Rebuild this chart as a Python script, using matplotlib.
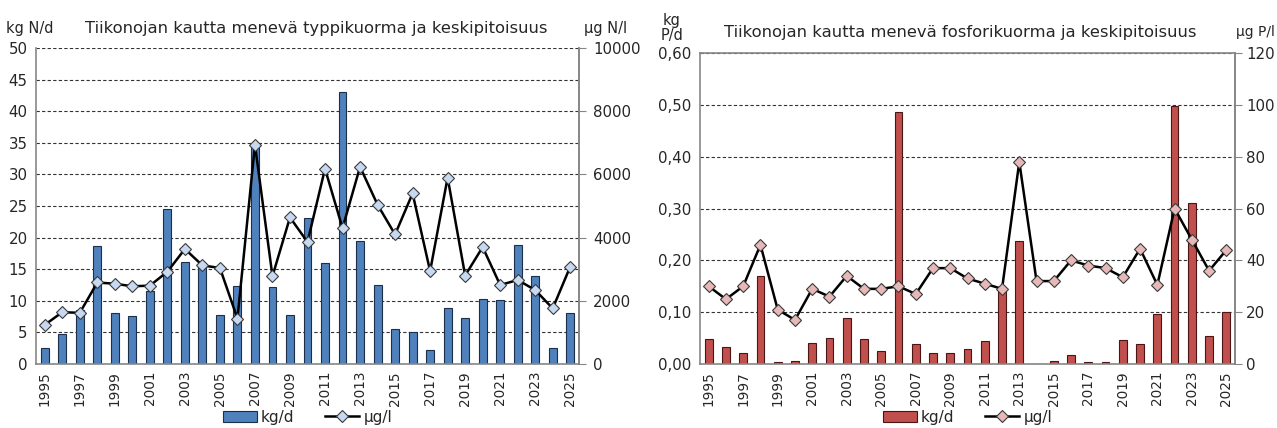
import numpy as np
import matplotlib
matplotlib.use("Agg")
import matplotlib.pyplot as plt
from matplotlib.ticker import FuncFormatter

plt.rcParams['font.family'] = ['DejaVu Sans']

years = list(range(1995, 2026))

# typpi (N)
n_load = [2.5, 4.7, 8.6, 18.7, 8.0, 7.6, 11.5, 24.6, 16.2, 15.3, 7.8, 12.4, 34.8, 12.2, 7.7, 23.1,
          16.0, 43.0, 19.4, 12.5, 5.5, 5.0, 2.25, 8.9, 7.25, 10.3, 10.1, 18.9, 14.0, 2.6, 8.1]
n_conc = [1240, 1640, 1620, 2580, 2540, 2460, 2480, 2920, 3640, 3120, 3040, 1440, 6940, 2780, 4640, 3860,
          6180, 4300, 6240, 5040, 4100, 5400, 2940, 5900, 2800, 3700, 2500, 2660, 2340, 1760, 3080]

# fosfori (P)
p_load = [0.048, 0.032, 0.021, 0.170, 0.003, 0.006, 0.040, 0.051, 0.088, 0.048, 0.025, 0.487, 0.039,
          0.021, 0.021, 0.029, 0.045, 0.145, 0.237, 0.0, 0.006, 0.018, 0.004, 0.003, 0.046, 0.039,
          0.096, 0.497, 0.31, 0.055, 0.101]
p_conc = [30, 25, 30, 46, 21, 17, 29, 26, 34, 29, 29, 30, 27, 37, 37, 33,
          31, 29, 78, 32, 32, 40, 38, 37, 33.5, 44.5, 30.5, 60, 48, 36, 44]

TXT = '#262626'
SPINE = '#868686'


def draw(fig, rect, load, conc, bar_col, bar_edge, mk_col, ymax, ystep, y2max, y2step, lfmt,
         full_frame, pad2=5):
    ax = fig.add_axes(rect)
    x = np.arange(len(years))
    ax.bar(x, load, width=0.45, color=bar_col, edgecolor=bar_edge, linewidth=0.8, zorder=2, label='kg/d')
    ax.set_xlim(-0.5, len(years) - 0.5)
    ax.set_ylim(0, ymax)
    ax.set_yticks(np.arange(0, ymax + ystep / 2, ystep))
    ax.yaxis.set_major_formatter(FuncFormatter(lfmt))
    ax.grid(axis='y', linestyle=(0, (3, 2)), color='#333333', linewidth=0.8, zorder=0)
    ax.set_xticks(x[::2])
    ax.set_xticklabels([str(y) for y in years[::2]], rotation=90)
    ax.tick_params(axis='x', length=0, pad=5, labelsize=9.8, colors=TXT)
    ax.tick_params(axis='y', length=0, pad=6, labelsize=10.8, colors=TXT)
    for s in ['left', 'bottom', 'right']:
        ax.spines[s].set_color(SPINE)
        ax.spines[s].set_linewidth(1.2)
    if full_frame:
        ax.spines['top'].set_color(SPINE)
        ax.spines['top'].set_linewidth(1.2)
    else:
        ax.spines['top'].set_visible(False)

    ax2 = ax.twinx()
    ax2.plot(x, conc, color='black', linewidth=1.8, marker='D', markersize=6.5,
             markerfacecolor=mk_col, markeredgecolor='#3a3a3a', markeredgewidth=0.8, zorder=3,
             label='µg/l')
    ax2.set_ylim(0, y2max)
    ax2.set_yticks(np.arange(0, y2max + y2step / 2, y2step))
    ax2.tick_params(axis='y', direction='out', length=5, pad=pad2, labelsize=10.8, colors=TXT)
    ax2.tick_params(axis='y', color=SPINE)
    for s in ax2.spines.values():
        s.set_visible(False)
    ax2.spines['right'].set_visible(True)
    ax2.spines['right'].set_color(SPINE)
    ax2.spines['right'].set_linewidth(1.2)

    h1, l1 = ax.get_legend_handles_labels()
    h2, l2 = ax2.get_legend_handles_labels()
    ax.legend(h1 + h2, l1 + l2, loc='center', bbox_to_anchor=(0.5, -53 / (rect[3] * 428)), ncol=2,
              frameon=False, fontsize=11, handlelength=2.2, columnspacing=2.0, handletextpad=0.3,
              labelcolor=TXT, borderpad=0)
    return ax, ax2


fig = plt.figure(figsize=(12.77, 4.28), dpi=100)

draw(fig, [0.0282, 0.1495, 0.4252, 0.7383], n_load, n_conc, '#4F81BD', '#1c2f4a', '#C6D9F1',
     50, 5, 10000, 2000, lambda v, p: f'{v:.0f}', False)
fig.text(316 / 1277, 1 - 28 / 428, 'Tiikonojan kautta menevä typpikuorma ja keskipitoisuus',
         ha='center', va='center', fontsize=11.8, color=TXT)
fig.text(6 / 1277, 1 - 28 / 428, 'kg N/d', ha='left', va='center', fontsize=10.5, color=TXT)
fig.text(606 / 1277, 1 - 28 / 428, 'µg N/l', ha='center', va='center', fontsize=10.5, color=TXT)

draw(fig, [0.5482, 0.1495, 0.4189, 0.7266], p_load, p_conc, '#C0504D', '#4a1514', '#E6B9B8',
     0.60, 0.10, 120, 20, lambda v, p: f'{v:.2f}'.replace('.', ','), True, pad2=3)
fig.text(960 / 1277, 1 - 32 / 428, 'Tiikonojan kautta menevä fosforikuorma ja keskipitoisuus',
         ha='center', va='center', fontsize=11.8, color=TXT)
fig.text(672 / 1277, 1 - 28 / 428, 'kg\nP/d', ha='center', va='center', fontsize=10.5,
         color=TXT, linespacing=1.0)
fig.text(1255 / 1277, 1 - 32 / 428, 'µg P/l', ha='center', va='center', fontsize=10, color=TXT)

fig.savefig('out.png', dpi=100)
